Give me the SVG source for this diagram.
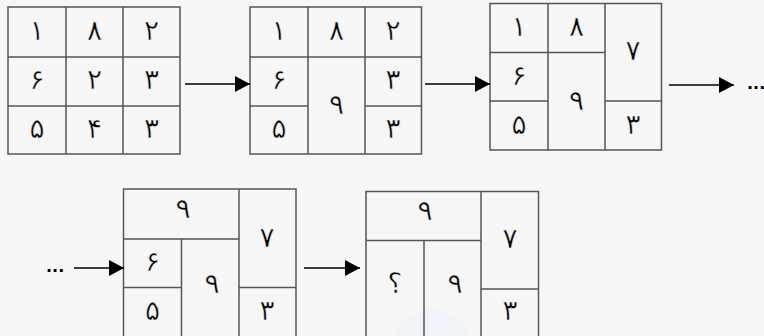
<svg xmlns="http://www.w3.org/2000/svg" width="764" height="336" viewBox="0 0 764 336">
<defs>
<style>
.c{fill:none;stroke:#555;stroke-width:1.5}
.t{font-family:"DejaVu Sans","Noto Sans",sans-serif;font-size:28px;fill:#000;text-anchor:middle;stroke:#f7f7f7;stroke-width:0.5;paint-order:fill}
.a{stroke:#000;stroke-width:1.3;fill:none}
.d{font-family:"DejaVu Sans",sans-serif;font-size:16px;font-weight:bold;fill:#000}
</style>
<marker id="ah" markerUnits="userSpaceOnUse" markerWidth="16" markerHeight="17" refX="15" refY="8" orient="auto">
<path d="M0,0 L15,8 L0,16 z" fill="#000"/>
</marker>
</defs>
<rect width="764" height="336" fill="#f7f7f7"/>
<ellipse cx="432" cy="360" rx="46" ry="50" fill="#f0f4f8"/>

<g id="grid1">
<rect class="c" x="8" y="7" width="172" height="147"/>
<path class="c" d="M66,7V154M123,7V154M8,57H180M8,106H180"/>
<text class="t" x="37" y="40">۱</text><text class="t" x="94.5" y="40">۸</text><text class="t" x="151.5" y="40">۲</text>
<text class="t" x="37" y="89">۶</text><text class="t" x="94.5" y="89">۲</text><text class="t" x="151.5" y="89">۳</text>
<text class="t" x="37" y="138">۵</text><text class="t" x="94.5" y="138">۴</text><text class="t" x="151.5" y="138">۳</text>
</g>

<g id="grid2">
<rect class="c" x="250" y="7" width="171.5" height="147"/>
<path class="c" d="M308,7V154M365,7V154M250,57H421.5M250,106H308M365,106H421.5"/>
<text class="t" x="279" y="40">۱</text><text class="t" x="336.5" y="40">۸</text><text class="t" x="393" y="40">۲</text>
<text class="t" x="279" y="89">۶</text><text class="t" x="336.5" y="114">۹</text><text class="t" x="393" y="89">۳</text>
<text class="t" x="279" y="138">۵</text><text class="t" x="393" y="138">۳</text>
</g>

<g id="grid3">
<rect class="c" x="490" y="3.5" width="171.5" height="146.5"/>
<path class="c" d="M548,3.5V150M605,3.5V150M490,52.5H605M490,101H548M605,101H661.5"/>
<text class="t" x="519" y="36">۱</text><text class="t" x="576.5" y="36">۸</text><text class="t" x="633" y="60">۷</text>
<text class="t" x="519" y="85">۶</text><text class="t" x="576.5" y="110">۹</text>
<text class="t" x="519" y="134">۵</text><text class="t" x="633" y="134">۳</text>
</g>

<g id="grid4">
<rect class="c" x="123.5" y="189" width="172.5" height="150"/>
<path class="c" d="M181.5,239V339M239,189V339M123.5,239H239M123.5,287.5H181.5M239,287.5H296"/>
<text class="t" x="183" y="218">۹</text><text class="t" x="267" y="247">۷</text>
<text class="t" x="152.5" y="271">۶</text><text class="t" x="212" y="293">۹</text>
<text class="t" x="152.5" y="320">۵</text><text class="t" x="267" y="320">۳</text>
</g>

<g id="grid5">
<rect class="c" x="366" y="191.5" width="172.5" height="148"/>
<path class="c" d="M424,240.5V339M481,191.5V339M366,240.5H481M481,289H538.5"/>
<text class="t" x="425" y="220">۹</text><text class="t" x="510" y="248">۷</text>
<text class="t" x="395" y="293">؟</text><text class="t" x="455" y="293">۹</text>
<text class="t" x="510" y="320">۳</text>
</g>

<g id="connectors">
<line class="a" x1="185" y1="84" x2="250" y2="84" marker-end="url(#ah)"/>
<line class="a" x1="425" y1="84" x2="490" y2="84" marker-end="url(#ah)"/>
<line class="a" x1="669" y1="85" x2="734" y2="85" marker-end="url(#ah)"/>
<text class="d" x="747" y="89">...</text>
<text class="d" x="46" y="272">...</text>
<line class="a" x1="74" y1="268" x2="124" y2="268" marker-end="url(#ah)"/>
<line class="a" x1="304" y1="268" x2="360" y2="268" marker-end="url(#ah)"/>
</g>
</svg>
